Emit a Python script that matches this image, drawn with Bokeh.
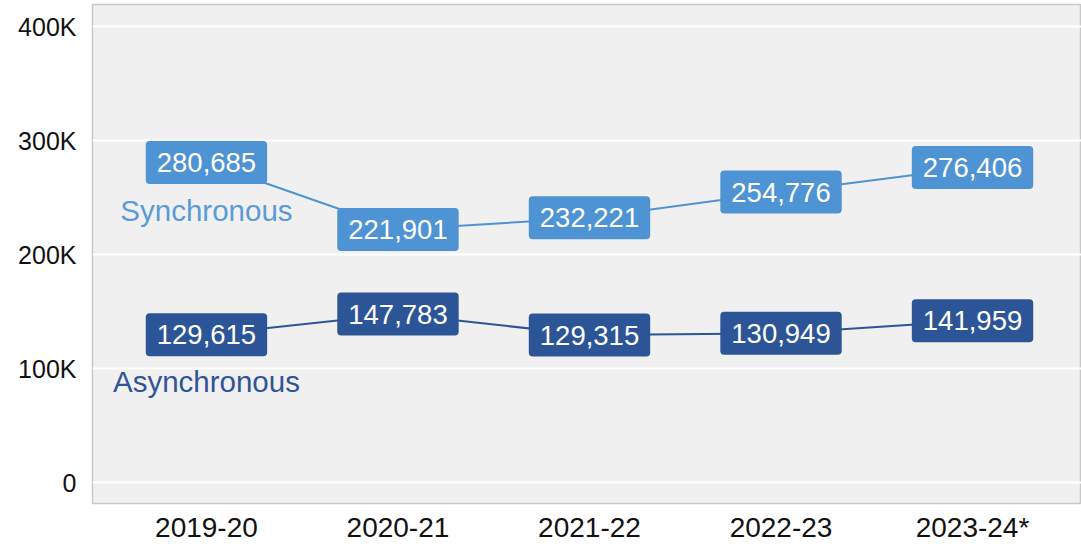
from bokeh.plotting import figure
from bokeh.models import FixedTicker, Range1d, ColumnDataSource
from bokeh.core.properties import value
from bokeh.embed import file_html
from bokeh.resources import INLINE

years = ["2019-20", "2020-21", "2021-22", "2022-23", "2023-24*"]
synchronous = [280685, 221901, 232221, 254776, 276406]
asynchronous = [129615, 147783, 129315, 130949, 141959]
y_ticks = [0, 100000, 200000, 300000, 400000]
y_tick_labels = ["0", "100K", "200K", "300K", "400K"]

SYNC_BOX = "#4E93D3"
SYNC_TXT = "#5B9BD5"
ASYNC_BOX = "#2C5597"
ASYNC_TXT = "#2F5597"
FONT = "Liberation Sans"

xs = list(range(len(years)))

p = figure(width=1081, height=546, output_backend="svg", toolbar_location=None,
           x_range=Range1d(-0.595, 4.569), y_range=Range1d(-18420, 419300),
           min_border_left=92, min_border_right=0, min_border_top=4, min_border_bottom=43)

p.background_fill_color = "#F0F0F0"
p.border_fill_color = "white"
p.outline_line_color = "#C8C8C8"
p.outline_line_width = 1.5

p.xgrid.visible = False
p.ygrid.grid_line_color = "white"
p.ygrid.grid_line_width = 2
p.ygrid.ticker = FixedTicker(ticks=y_ticks)

p.yaxis.ticker = FixedTicker(ticks=y_ticks)
p.yaxis.major_label_overrides = {t: l for t, l in zip(y_ticks, y_tick_labels)}
p.xaxis.ticker = FixedTicker(ticks=xs)
p.xaxis.major_label_overrides = {i: y for i, y in enumerate(years)}

for ax in (p.xaxis, p.yaxis):
    ax.axis_line_color = None
    ax.major_tick_line_color = None
    ax.minor_tick_line_color = None
    ax.major_tick_out = 0
    ax.major_tick_in = 0
    ax.major_label_text_font = FONT
    ax.major_label_text_color = "#111111"
p.yaxis.major_label_text_font_size = "25px"
p.yaxis.major_label_standoff = 16
p.xaxis.major_label_text_font_size = "28px"
p.xaxis.major_label_standoff = 8

src_s = ColumnDataSource(dict(x=xs, y=synchronous, t=[f"{v:,}" for v in synchronous]))
src_a = ColumnDataSource(dict(x=xs, y=asynchronous, t=[f"{v:,}" for v in asynchronous]))

p.line("x", "y", source=src_s, line_color=SYNC_BOX, line_width=2)
p.line("x", "y", source=src_a, line_color=ASYNC_BOX, line_width=2)

for src, col in ((src_s, SYNC_BOX), (src_a, ASYNC_BOX)):
    p.text("x", "y", text="t", source=src, text_align="center", text_baseline="middle",
           text_color="white", text_font=value(FONT), text_font_size="27.5px",
           background_fill_color=col, border_radius=4,
           padding=dict(left=11, right=11, top=12, bottom=12))

p.text(x=[0], y=[synchronous[0]], text=["Synchronous"], y_offset=48,
       text_align="center", text_baseline="middle", text_color=SYNC_TXT,
       text_font=value(FONT), text_font_size="29.5px")
p.text(x=[0], y=[asynchronous[0]], text=["Asynchronous"], y_offset=47,
       text_align="center", text_baseline="middle", text_color=ASYNC_TXT,
       text_font=value(FONT), text_font_size="29.5px")

open("out.html", "w").write(file_html(p, INLINE))
